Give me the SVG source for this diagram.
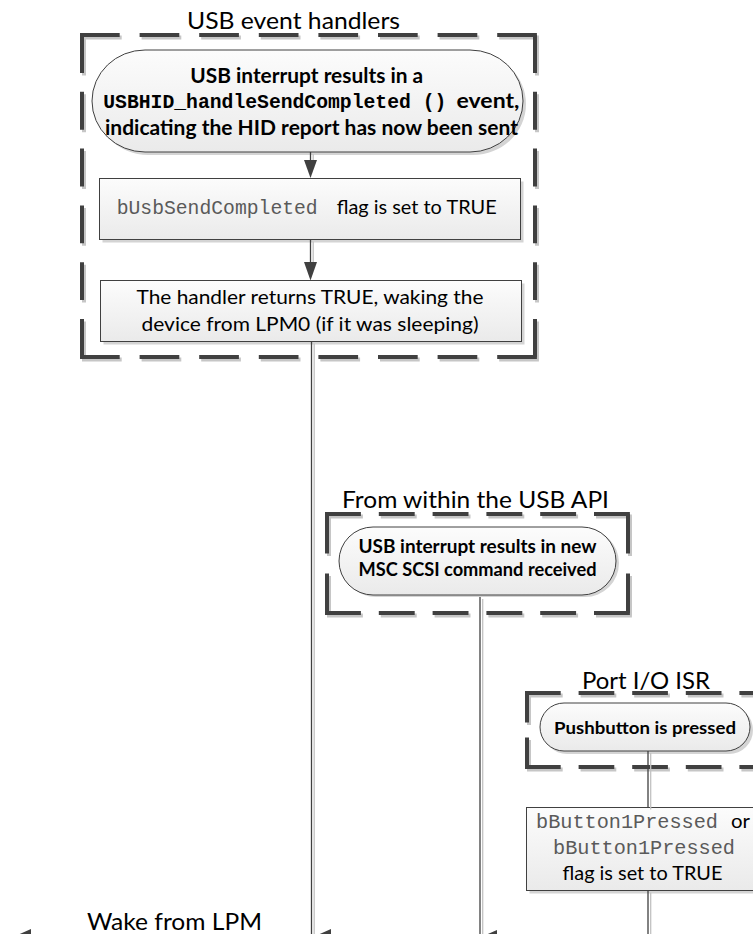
<svg xmlns="http://www.w3.org/2000/svg" width="753" height="934" viewBox="0 0 753 934">
<defs>
<linearGradient id="fillG" x1="0" y1="0" x2="0" y2="1">
<stop offset="0" stop-color="#fcfcfc"/>
<stop offset="1" stop-color="#eaeaea"/>
</linearGradient>
</defs>
<style>
.frame{fill:none;stroke:#404040;stroke-width:4}
.frame-sh{fill:none;stroke:#c6c6c6;stroke-width:4}
.shape{fill:url(#fillG);stroke:#404040;stroke-width:1}
.shadow{fill:#d4d4d4}
.lbl{font-family:Lato,"Liberation Sans",sans-serif;font-size:24px;fill:#000}
.txt{font-family:Lato,"Liberation Sans",sans-serif;font-size:19.8px;fill:#000}
.b{font-family:Lato,"Liberation Sans",sans-serif;font-weight:bold;fill:#000}
.mono{font-family:"Liberation Mono",monospace;font-size:19.8px;fill:#5a5a5a}
.monoB{font-family:"Liberation Mono",monospace;font-size:19.7px;font-weight:bold;fill:#000}
.conn{fill:none;stroke:#404040;stroke-width:1.3}
.conn-sh{fill:none;stroke:#c2c2c2;stroke-width:1.3}
.ah{fill:#404040}
</style>

<!-- Group 1 -->
<g id="grp-usb-event-handlers">
<g class="frame-sh" transform="translate(2,2.5)">
<path d="M80,35H537M80,357H537" stroke-dasharray="39.7 19.9"/>
<path d="M82,35V357M535,35V357" stroke-dasharray="37.9 18.9"/>
</g>
<g class="frame">
<path d="M80,35H537M80,357H537" stroke-dasharray="39.7 19.9"/>
<path d="M82,35V357M535,35V357" stroke-dasharray="37.9 18.9"/>
</g>
<text class="lbl" x="293.5" y="29" text-anchor="middle" textLength="213" lengthAdjust="spacingAndGlyphs">USB event handlers</text>
</g>

<g id="n1-usb-interrupt">
<rect class="shadow" x="95" y="53" width="431" height="102" rx="53" ry="51"/>
<rect class="shape" x="92" y="50" width="431" height="102" rx="53" ry="51"/>
<text class="b" font-size="20" x="306.7" y="83" text-anchor="middle" textLength="233" lengthAdjust="spacingAndGlyphs">USB interrupt results in a</text>
<text class="monoB" x="103.3" y="108.3" textLength="343" lengthAdjust="spacingAndGlyphs">USBHID_handleSendCompleted ()</text>
<text class="b" font-size="20" x="456.5" y="108.3" textLength="63" lengthAdjust="spacingAndGlyphs">event,</text>
<text class="b" font-size="20" x="311.5" y="135" text-anchor="middle" textLength="413" lengthAdjust="spacingAndGlyphs">indicating the HID report has now been sent</text>
</g>

<g id="n2-flag-set">
<rect class="shadow" x="102.5" y="181.5" width="421" height="61"/>
<rect class="shape" x="99.5" y="178.5" width="421" height="61"/>
<text class="mono" x="116.7" y="214" textLength="201" lengthAdjust="spacingAndGlyphs">bUsbSendCompleted</text>
<text class="txt" x="336.7" y="214" textLength="160" lengthAdjust="spacingAndGlyphs">flag is set to TRUE</text>
</g>

<g id="n3-handler-returns">
<rect class="shadow" x="103.5" y="283.5" width="421" height="61"/>
<rect class="shape" x="100.5" y="280.5" width="421" height="61"/>
<text class="txt" x="310" y="304" text-anchor="middle" textLength="347" lengthAdjust="spacingAndGlyphs">The handler returns TRUE, waking the</text>
<text class="txt" x="310" y="331" text-anchor="middle" textLength="337" lengthAdjust="spacingAndGlyphs">device from LPM0 (if it was sleeping)</text>
</g>

<!-- Group 2 -->
<g id="grp-usb-api">
<g class="frame-sh" transform="translate(2,2.5)">
<path d="M325,514H630M325,613H630" stroke-dasharray="35.9 17.9"/>
<path d="M327,514V613M628,514V613" stroke-dasharray="39.6 19.8"/>
</g>
<g class="frame">
<path d="M325,514H630M325,613H630" stroke-dasharray="35.9 17.9"/>
<path d="M327,514V613M628,514V613" stroke-dasharray="39.6 19.8"/>
</g>
<text class="lbl" x="475.5" y="508" text-anchor="middle" textLength="267" lengthAdjust="spacingAndGlyphs">From within the USB API</text>
</g>

<g id="n4-msc-command">
<rect class="shadow" x="342" y="529" width="277" height="68" rx="34"/>
<rect class="shape" x="339" y="527" width="277" height="68" rx="34"/>
<text class="b" font-size="18.3" x="477.5" y="553" text-anchor="middle" textLength="238" lengthAdjust="spacingAndGlyphs">USB interrupt results in new</text>
<text class="b" font-size="18.3" x="477.5" y="576" text-anchor="middle" textLength="238" lengthAdjust="spacingAndGlyphs">MSC SCSI command received</text>
</g>

<!-- Group 4 -->
<g id="grp-port-isr">
<g class="frame-sh" transform="translate(2,2.5)">
<path d="M525,693H775M525,767H775" stroke-dasharray="35.7 17.9"/>
<path d="M527,693V767" stroke-dasharray="29.6 14.8"/>
</g>
<g class="frame">
<path d="M525,693H775M525,767H775" stroke-dasharray="35.7 17.9"/>
<path d="M527,693V767" stroke-dasharray="29.6 14.8"/>
</g>
<text class="lbl" x="646" y="689" text-anchor="middle" textLength="128" lengthAdjust="spacingAndGlyphs">Port I/O ISR</text>
</g>

<g id="n5-pushbutton">
<rect class="shadow" x="543" y="706" width="210" height="48" rx="24"/>
<rect class="shape" x="540" y="703" width="210" height="48" rx="24"/>
<text class="b" font-size="17.8" x="645" y="734" text-anchor="middle" textLength="182" lengthAdjust="spacingAndGlyphs">Pushbutton is pressed</text>
</g>

<g id="n6-button-flag">
<rect class="shadow" x="529.5" y="810.5" width="232" height="83"/>
<rect class="shape" x="526.5" y="807.5" width="232" height="83"/>
<text class="mono" x="536" y="828" textLength="182" lengthAdjust="spacingAndGlyphs">bButton1Pressed</text>
<text class="txt" x="731" y="828" textLength="19" lengthAdjust="spacingAndGlyphs">or</text>
<text class="mono" x="553" y="854" textLength="182" lengthAdjust="spacingAndGlyphs">bButton1Pressed</text>
<text class="txt" x="642.5" y="880" text-anchor="middle" textLength="160" lengthAdjust="spacingAndGlyphs">flag is set to TRUE</text>
</g>

<g id="n7-wake">
<text class="lbl" x="87" y="930" textLength="175" lengthAdjust="spacingAndGlyphs">Wake from LPM</text>
</g>

<!-- Connectors -->
<g id="connectors">
<g class="conn-sh" transform="translate(2.7,2)">
<path d="M310.5,152V162M310.5,239.5V262M311.5,341.5V940M480,597V940M648,751V807.5M648,890.5V940"/>
</g>
<g class="conn">
<path d="M310.5,152V162M310.5,239.5V262M311.5,341.5V940M480,597V940M648,751V807.5M648,890.5V940"/>
</g>
<polygon class="ah" points="304,160 317,160 310.5,178"/>
<polygon class="ah" points="304,262 317,262 310.5,280.5"/>
<polygon class="ah" points="13,937 31,929 31,945"/>
<polygon class="ah" points="313,937 331,929 331,945"/>
<polygon class="ah" points="481,937 497,930 497,944"/>
</g>
</svg>
